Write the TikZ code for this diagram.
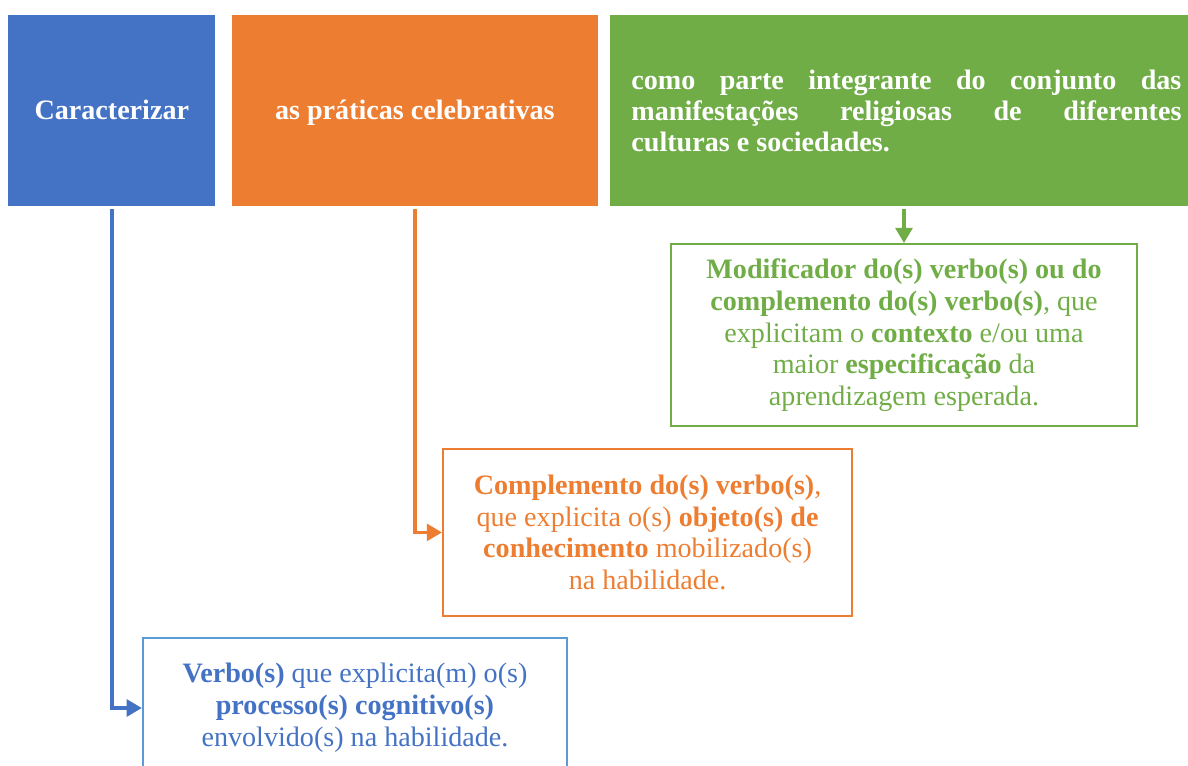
\documentclass[tikz,border=0pt]{standalone}
\usepackage{fontspec}
\setmainfont{Liberation Serif}
\usepackage{tikz}
\usetikzlibrary{arrows.meta,positioning}
\definecolor{HabBlue}{HTML}{4472C4}
\definecolor{HabLightBlue}{HTML}{5B9BD5}
\definecolor{HabOrange}{HTML}{ED7D31}
\definecolor{HabGreen}{HTML}{70AD47}
\tikzset{
  topbox/.style={minimum height=4.775cm,align=center,inner sep=0pt,text=white,font=\fontsize{20}{22}\selectfont\bfseries},
  toplabel/.style={topbox,text height=13pt,text depth=0pt},
  outbox/.style={draw,line width=1.6pt,align=center,inner sep=0pt,font=\fontsize{20}{22.7}\selectfont},
  arr/.style={-{Triangle[length=0.38cm,width=0.42cm]},line width=2.5pt}
}
\begin{document}
\begin{tikzpicture}
\useasboundingbox (0,0) rectangle (29.7,-19.125);
% linha superior
\node[toplabel,fill=HabBlue,minimum width=5.175cm,anchor=north west] (verbtop) at (0.2,-0.375) {Caracterizar};
\node[toplabel,fill=HabOrange,minimum width=9.15cm,right=0.4cm of verbtop] (complTop) {as práticas celebrativas};
\node[topbox,fill=HabGreen,text width=13.75cm,inner xsep=0.525cm,align=justify,right=0.3cm of complTop] (modTop)
  {como parte integrante do conjunto das\linebreak manifestações religiosas de diferentes\linebreak culturas e sociedades.};
% caixas explicativas
\node[outbox,draw=HabGreen,text=HabGreen,minimum width=11.65cm,minimum height=4.55cm] (modif) at (22.6,-8.38)
  {\textbf{Modificador do(s) verbo(s) ou do}\\\textbf{complemento do(s) verbo(s)}, que\\explicitam o \textbf{contexto} e/ou uma\\maior \textbf{especificação} da\\aprendizagem esperada.};
\node[outbox,draw=HabOrange,text=HabOrange,minimum width=10.225cm,minimum height=4.175cm] (compl) at (16.19,-13.31)
  {\textbf{Complemento do(s) verbo(s)},\\que explicita o(s) \textbf{objeto(s) de}\\\textbf{conhecimento} mobilizado(s)\\na habilidade.};
\node[outbox,draw=HabLightBlue,text=HabBlue,minimum width=10.6cm,minimum height=3.5cm] (verbo) at (8.875,-17.7)
  {\textbf{Verbo(s)} que explicita(m) o(s)\\\textbf{processo(s) cognitivo(s)}\\envolvido(s) na habilidade.};
% conectores
\draw[arr,HabBlue,shorten <=2pt] (verbtop.south) |- (verbo.west);
\draw[arr,HabOrange,shorten <=2pt] (complTop.south) |- (compl.west);
\draw[arr,HabGreen,shorten <=2pt] (modif.north |- modTop.south) -- (modif.north);
\end{tikzpicture}
\end{document}
